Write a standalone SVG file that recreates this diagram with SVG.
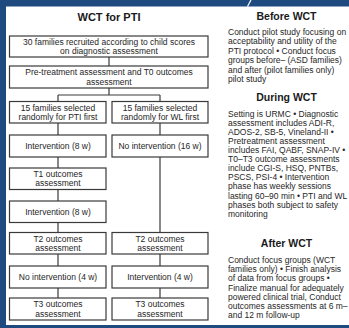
<svg xmlns="http://www.w3.org/2000/svg" width="349" height="328" viewBox="0 0 349 328">
<style>
.frame{fill:#1f4a80}
.box{fill:#fff;stroke:#3a3a3a;stroke-width:1.2}
.t{font-family:"Liberation Sans",Arial,sans-serif;font-size:8.5px;fill:#262626}
.c{text-anchor:middle}
.h{font-family:"Liberation Sans",Arial,sans-serif;font-weight:bold;fill:#1a1a1a;text-anchor:middle}
.ln{stroke:#3a3a3a;stroke-width:1.2;fill:none}
</style>
<rect x="0" y="0" width="349" height="328" fill="#fff"/>
<rect class="frame" x="0" y="0" width="349" height="6.5"/>
<rect class="frame" x="0" y="0" width="6" height="328"/>
<rect class="frame" x="0" y="325" width="349" height="3"/>
<line x1="251" y1="0" x2="247.5" y2="6.5" stroke="#fff" stroke-width="1.2"/>

<text class="h" x="109" y="21" font-size="11">WCT for PTI</text>

<g id="connectors">
<path class="ln" d="M109,57 V66"/>
<path class="ln" d="M109,88 V95 M58,95 H160 M58,95 V101.5 M160,95 V101.5"/>
<path class="ln" d="M58,123 V135 M58,157 V168 M58,189.5 V201 M58,222.5 V232.5 M58,254 V266 M58,288 V298"/>
<path class="ln" d="M160,123 V135 M160,157 V232.5 M160,254 V266 M160,288 V298"/>
</g>

<g id="recruit">
<rect class="box" x="9.5" y="36" width="198.5" height="21"/>
<text class="t c" x="109" y="45">30 families recruited according to child scores</text>
<text class="t c" x="109" y="54.2">on diagnostic assessment</text>
</g>
<g id="pretreat">
<rect class="box" x="9.5" y="66" width="198.5" height="22"/>
<text class="t c" x="109" y="75.4">Pre-treatment assessment and T0 outcomes</text>
<text class="t c" x="109" y="84.6">assessment</text>
</g>
<g id="pti-first">
<rect class="box" x="9.5" y="101.5" width="96.5" height="21.5"/>
<text class="t c" x="58" y="110.6">15 families selected</text>
<text class="t c" x="58" y="119.9">randomly for PTI first</text>
</g>
<g id="wl-first">
<rect class="box" x="112" y="101.5" width="96" height="21.5"/>
<text class="t c" x="160" y="110.6">15 families selected</text>
<text class="t c" x="160" y="119.9">randomly for WL first</text>
</g>
<g id="pti-int1">
<rect class="box" x="9.5" y="135" width="96.5" height="22"/>
<text class="t c" x="58" y="149">Intervention (8 w)</text>
</g>
<g id="wl-noint">
<rect class="box" x="112" y="135" width="96" height="22"/>
<text class="t c" x="160" y="149">No intervention (16 w)</text>
</g>
<g id="pti-t1">
<rect class="box" x="9.5" y="168" width="96.5" height="21.5"/>
<text class="t c" x="58" y="177.2">T1 outcomes</text>
<text class="t c" x="58" y="186.4">assessment</text>
</g>
<g id="pti-int2">
<rect class="box" x="9.5" y="201" width="96.5" height="21.5"/>
<text class="t c" x="58" y="214.8">Intervention (8 w)</text>
</g>
<g id="pti-t2">
<rect class="box" x="9.5" y="232.5" width="96.5" height="21.5"/>
<text class="t c" x="58" y="241.6">T2 outcomes</text>
<text class="t c" x="58" y="250.9">assessment</text>
</g>
<g id="wl-t2">
<rect class="box" x="112" y="232.5" width="96" height="21.5"/>
<text class="t c" x="160" y="241.6">T2 outcomes</text>
<text class="t c" x="160" y="250.9">assessment</text>
</g>
<g id="pti-noint">
<rect class="box" x="9.5" y="266" width="96.5" height="22"/>
<text class="t c" x="58" y="280">No intervention (4 w)</text>
</g>
<g id="wl-int">
<rect class="box" x="112" y="266" width="96" height="22"/>
<text class="t c" x="160" y="280">Intervention (4 w)</text>
</g>
<g id="pti-t3">
<rect class="box" x="9.5" y="298" width="96.5" height="22"/>
<text class="t c" x="58" y="307.4">T3 outcomes</text>
<text class="t c" x="58" y="316.6">assessment</text>
</g>
<g id="wl-t3">
<rect class="box" x="112" y="298" width="96" height="22"/>
<text class="t c" x="160" y="307.4">T3 outcomes</text>
<text class="t c" x="160" y="316.6">assessment</text>
</g>

<g id="before">
<text class="h" x="286.5" y="20" font-size="10.5">Before WCT</text>
<text class="t">
<tspan x="228" y="34.5">Conduct pilot study focusing on</tspan>
<tspan x="228" y="44">acceptability and utility of the</tspan>
<tspan x="228" y="53.5">PTI protocol • Conduct focus</tspan>
<tspan x="228" y="63">groups before– (ASD families)</tspan>
<tspan x="228" y="72.5">and after (pilot families only)</tspan>
<tspan x="228" y="82">pilot study</tspan>
</text>
</g>
<g id="during">
<text class="h" x="286.5" y="101" font-size="10.5">During WCT</text>
<text class="t">
<tspan x="228" y="117">Setting is URMC • Diagnostic</tspan>
<tspan x="228" y="126.1">assessment includes ADI-R,</tspan>
<tspan x="228" y="135.1">ADOS-2, SB-5, Vineland-II •</tspan>
<tspan x="228" y="144.2">Pretreatment assessment</tspan>
<tspan x="228" y="153.2">includes FAI, QABF, SNAP-IV •</tspan>
<tspan x="228" y="162.3">T0–T3 outcome assessments</tspan>
<tspan x="228" y="171.3">include CGI-S, HSQ, PNTBs,</tspan>
<tspan x="228" y="180.4">PSCS, PSI-4 • Intervention</tspan>
<tspan x="228" y="189.4">phase has weekly sessions</tspan>
<tspan x="228" y="198.5">lasting 60–90 min • PTI and WL</tspan>
<tspan x="228" y="207.5">phases both subject to safety</tspan>
<tspan x="228" y="216.6">monitoring</tspan>
</text>
</g>
<g id="after">
<text class="h" x="286.5" y="247" font-size="10.5">After WCT</text>
<text class="t">
<tspan x="228" y="263">Conduct focus groups (WCT</tspan>
<tspan x="228" y="272.2">families only) • Finish analysis</tspan>
<tspan x="228" y="281.4">of data from focus groups •</tspan>
<tspan x="228" y="290.6">Finalize manual for adequately</tspan>
<tspan x="228" y="299.8">powered clinical trial, Conduct</tspan>
<tspan x="228" y="309">outcomes assessments at 6 m–</tspan>
<tspan x="228" y="318.2">and 12 m follow-up</tspan>
</text>
</g>
</svg>
